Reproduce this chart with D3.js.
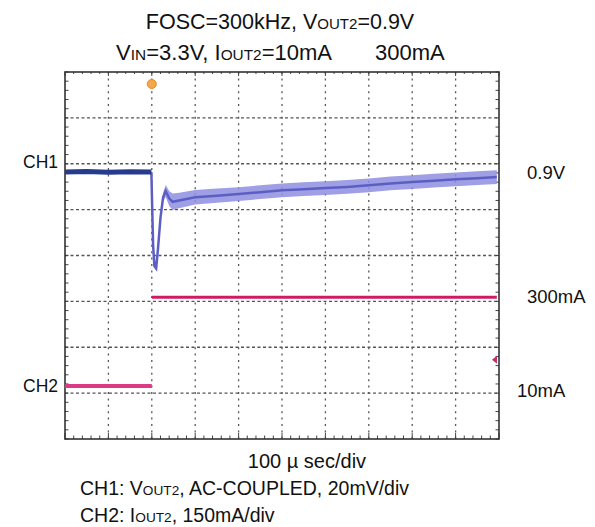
<!DOCTYPE html>
<html><head><meta charset="utf-8">
<script src="https://cdn.jsdelivr.net/npm/d3@7"></script>
<style>
html,body{margin:0;padding:0;background:#fff;}
text{font-family:"Liberation Sans",Arial,sans-serif;fill:#111;}
</style></head>
<body>
<svg id="c" width="595" height="527"></svg>
<script>
// ---- data ----
const timeGrid = [100,200,300,400,500,600,700,800,900];      // µs
const divGrid = [-3,-2,-1,0,1,2,3];                            // vertical divisions
// CH1: VOUT2, AC coupled, mV relative to 0.9V level
const ch1Time = [0,50,100,150,199,201,203,206,210,214,220,226,232,240,248,260,300,350,400,450,500,550,600,650,700,750,800,850,900,950,995];
const ch1mV   = [0,0.2,-0.1,0.1,0,-16,-32,-41,-42,-34,-20,-11,-8.3,-11.5,-13,-12.5,-11,-10.3,-9.6,-8.8,-8.0,-7.5,-7.0,-6.5,-5.8,-5.0,-4.4,-3.8,-3.2,-2.7,-2.2];
const ch1Spread = [1,1,1,1,1,0.6,0.6,0.6,0.8,1,1.4,2,2.6,3.2,3.6,3.4,3.2,3.1,3,3,3,3,3,3,3,3,3,3,3,3,3];
// CH2: IOUT2 in mA
const ch2PreTime = [0,200];
const ch2PreMA = [10,10];
const ch2PostTime = [200,995];
const ch2PostMA = [300,300];
const ch1Offset = 1.82;   // div
const ch2Offset = -2.91;  // div
const ch1PerDiv = 20, ch2PerDiv = 150;

const svg = d3.select("#c");
const x = d3.scaleLinear().domain([0,1000]).range([65,499]);
const yDiv = d3.scaleLinear().domain([-4,4]).range([439,72]);
const y1 = v => yDiv(ch1Offset + v/ch1PerDiv);
const y2 = v => yDiv(ch2Offset + v/ch2PerDiv);

// grid
const g = svg.append("g");
g.selectAll(".vg").data(timeGrid).join("line")
 .attr("x1",d=>x(d)).attr("x2",d=>x(d)).attr("y1",yDiv(4)).attr("y2",yDiv(-4))
 .attr("stroke","#555").attr("stroke-width",1.3).attr("stroke-dasharray","2,4.4");
g.selectAll(".hg").data(divGrid).join("line")
 .attr("x1",x(0)).attr("x2",x(1000)).attr("y1",d=>yDiv(d)).attr("y2",d=>yDiv(d))
 .attr("stroke","#555").attr("stroke-width",1.3).attr("stroke-dasharray","3,2.5");
// border ticks
const tx = d3.range(0,1001,20), ty = d3.range(-4,4.001,0.2);
g.selectAll(".tb").data(tx).join("line")
 .attr("x1",d=>x(d)).attr("x2",d=>x(d)).attr("y1",yDiv(-4)).attr("y2",d=>yDiv(-4)-(d%100===0?6:3.5))
 .attr("stroke","#444").attr("stroke-width",1);
g.selectAll(".tt").data(tx).join("line")
 .attr("x1",d=>x(d)).attr("x2",d=>x(d)).attr("y1",yDiv(4)).attr("y2",d=>yDiv(4)+(d%100===0?4:2))
 .attr("stroke","#444").attr("stroke-width",1);
g.selectAll(".tl").data(ty).join("line")
 .attr("y1",d=>yDiv(d)).attr("y2",d=>yDiv(d)).attr("x1",x(0)).attr("x2",x(0)+3.5)
 .attr("stroke","#444").attr("stroke-width",1);
g.selectAll(".tr").data(ty).join("line")
 .attr("y1",d=>yDiv(d)).attr("y2",d=>yDiv(d)).attr("x1",x(1000)).attr("x2",x(1000)-3.5)
 .attr("stroke","#444").attr("stroke-width",1);
g.append("rect").attr("x",x(0)).attr("y",yDiv(4)).attr("width",x(1000)-x(0)).attr("height",yDiv(-4)-yDiv(4))
 .attr("fill","none").attr("stroke","#333").attr("stroke-width",1.6);

// CH1 band
const idx = d3.range(ch1Time.length);
const preIdx = idx.filter(i=>ch1Time[i]<=200);
const postIdx = idx.filter(i=>ch1Time[i]>=199);
svg.append("path").datum(postIdx)
 .attr("d",d3.area().x(i=>x(ch1Time[i])).y0(i=>y1(ch1mV[i]-ch1Spread[i])).y1(i=>y1(ch1mV[i]+ch1Spread[i])))
 .attr("fill","#8e8ee0").attr("opacity",0.85);
svg.append("path").datum(postIdx)
 .attr("d",d3.line().x(i=>x(ch1Time[i])).y(i=>y1(ch1mV[i])))
 .attr("fill","none").attr("stroke","#5c5ec4").attr("stroke-width",2.5);
svg.append("path").datum(preIdx)
 .attr("d",d3.line().x(i=>x(ch1Time[i])).y(i=>y1(ch1mV[i])))
 .attr("fill","none").attr("stroke","#263a8e").attr("stroke-width",5);

// CH2
const l2 = d3.line().x(d=>x(d[0])).y(d=>y2(d[1]));
svg.append("path").datum(d3.zip(ch2PreTime,ch2PreMA)).attr("d",l2)
 .attr("fill","none").attr("stroke","#dc3a84").attr("stroke-width",4);
svg.append("path").datum(d3.zip(ch2PostTime,ch2PostMA)).attr("d",l2)
 .attr("fill","none").attr("stroke","#cc1c62").attr("stroke-width",3);

// markers
svg.append("circle").attr("cx",x(200)).attr("cy",84).attr("r",4.5).attr("fill","#f4a84a").attr("stroke","#e88a20");
svg.append("path").attr("d",`M${x(1000)-2},${yDiv(-2.27)-4} L${x(1000)-7},${yDiv(-2.27)} L${x(1000)-2},${yDiv(-2.27)+4} Z`)
 .attr("fill","#c0306a");

// texts
function richText(parent, xPos, yPos, parts, size, anchor){
  const t = parent.append("text").attr("x",xPos).attr("y",yPos).attr("text-anchor",anchor||"start").style("font-size",size+"px");
  parts.forEach(p=>{ t.append("tspan").text(p[0]).style("font-size",(p[1]?size*0.7:size)+"px"); });
  return t;
}
richText(svg,280,29,[["FOSC=300kHz, V"],["OUT2",1],["=0.9V"]],21.5,"middle");
richText(svg,332,60,[["V"],["IN",1],["=3.3V, I"],["OUT2",1],["=10mA"]],22,"end");
richText(svg,375,60,[["300mA"]],22,"start");

richText(svg,23,168,[["CH1"]],17.5);
richText(svg,23,392,[["CH2"]],17.5);
richText(svg,527,179,[["0.9V"]],18.5);
richText(svg,527,303,[["300mA"]],18.5);
richText(svg,517,397,[["10mA"]],18.5);

richText(svg,307,468,[["100 µ sec/div"]],20,"middle");
richText(svg,80,495,[["CH1: V"],["OUT2",1],[", AC-COUPLED, 20mV/div"]],19.5);
richText(svg,80,522,[["CH2: I"],["OUT2",1],[", 150mA/div"]],19.5);
</script>
</body></html>
